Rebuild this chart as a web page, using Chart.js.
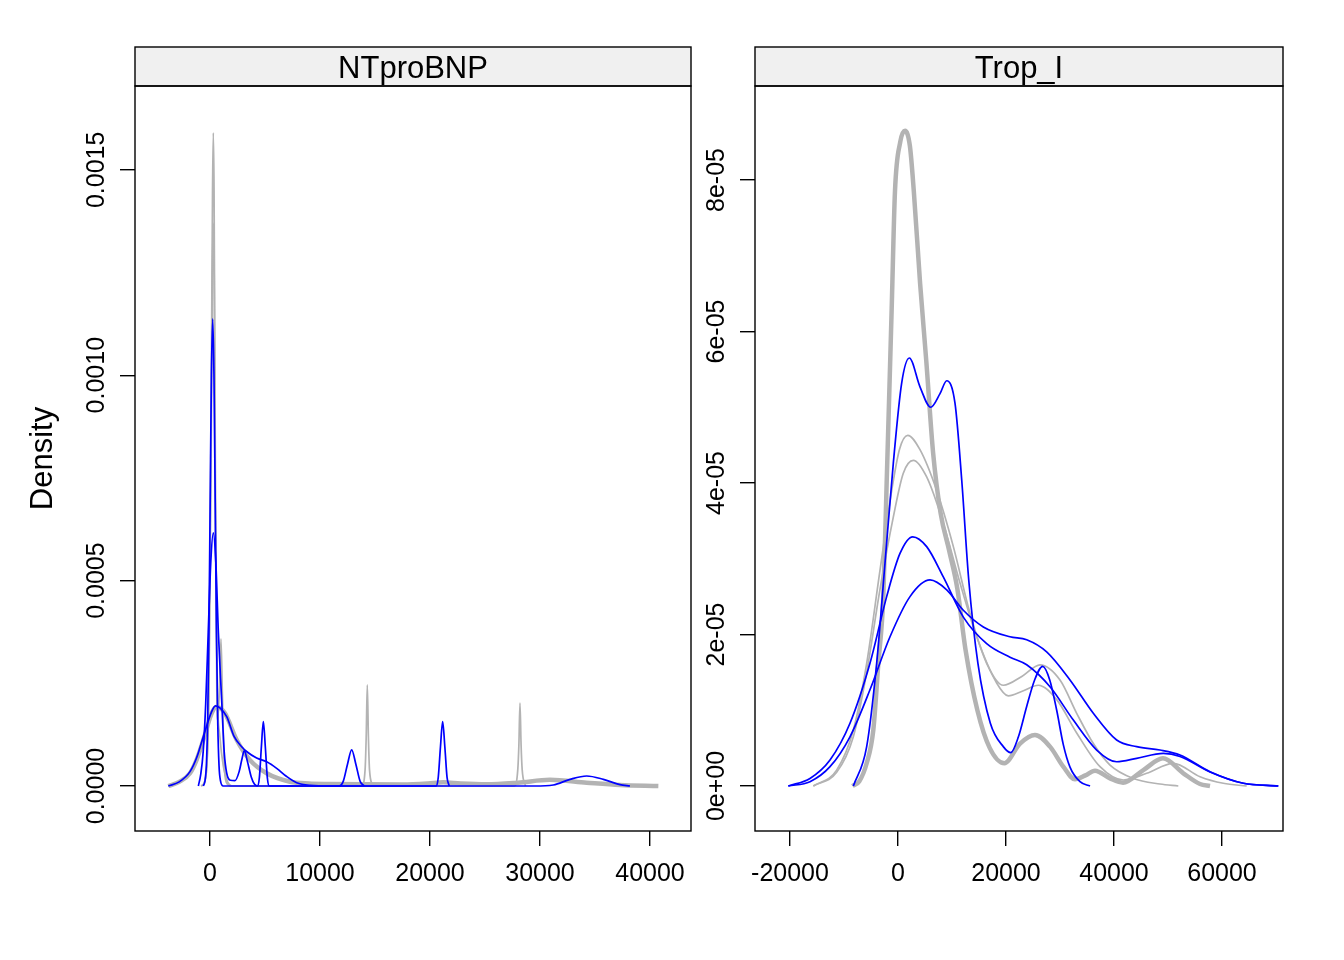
<!DOCTYPE html>
<html>
<head>
<meta charset="utf-8">
<script src="https://cdn.jsdelivr.net/npm/chart.js@4.4.1/dist/chart.umd.min.js"></script>
<style>
  html, body { margin: 0; padding: 0; background: #fff; }
  #wrap { position: relative; width: 1344px; height: 960px; overflow: hidden; }
  canvas { position: absolute; top: 0; }
  #left { left: 0; }
  #right { left: 700px; }
</style>
</head>
<body>
<div id="wrap">
  <canvas id="left" width="700" height="960"></canvas>
  <canvas id="right" width="644" height="960"></canvas>
</div>
<script>
// panel titles and axis ticks
const panels = ['NTproBNP', 'Trop_I'];
const ntXTicks = [0, 10000, 20000, 30000, 40000];
const ntYTicks = [0, 0.0005, 0.001, 0.0015];
const ntYTickLabels = ['0.0000', '0.0005', '0.0010', '0.0015'];
const tropXTicks = [-20000, 0, 20000, 40000, 60000];
const tropYTicks = [0, 2e-5, 4e-5, 6e-5, 8e-5];
const tropYTickLabels = ['0e+00', '2e-05', '4e-05', '6e-05', '8e-05'];

// NTproBNP densities
const ntGrayThickX = [-3790, -2800, -1820, -1200, -610, 150, 610, 1360, 2430, 3640, 5150, 7270, 9000, 10910, 14000, 17500, 19800, 21200, 22800, 25150, 28000, 30900, 34240, 37270, 40760];
const ntGrayThickY = [0, 1.0e-5, 3.1e-5, 6.5e-5, 1.12e-4, 1.77e-4, 1.93e-4, 1.77e-4, 1.12e-4, 6.3e-5, 3.1e-5, 1.05e-5, 6e-6, 4.9e-6, 4e-6, 3.5e-6, 6e-6, 9e-6, 6e-6, 4e-6, 8e-6, 1.5e-5, 8e-6, 2.4e-6, 0];
const ntGray1X = [-800, -400, -100, 100, 230, 300, 370, 500, 620, 700, 850, 1000, 1120, 1280, 1500, 1900, 13800, 14100, 14200, 14300, 14400, 14500, 14800];
const ntGray1Y = [0, 2e-5, 2.5e-4, 9e-4, 1.45e-3, 1.59e-3, 1.45e-3, 7e-4, 2.3e-4, 1.6e-4, 2.3e-4, 3.58e-4, 2.3e-4, 6e-5, 8e-6, 0, 0, 4e-5, 1.2e-4, 2.46e-4, 1.2e-4, 4e-5, 0];
const ntGray2X = [-800, -400, -100, 100, 220, 300, 380, 500, 650, 900, 1200, 1600, 2100, 27680, 27980, 28080, 28180, 28280, 28380, 28680];
const ntGray2Y = [0, 2e-5, 2.2e-4, 8e-4, 1.25e-3, 1.37e-3, 1.25e-3, 6e-4, 2.4e-4, 1.2e-4, 5e-5, 1e-5, 0, 0, 4e-5, 1.0e-4, 2.02e-4, 1.0e-4, 4e-5, 0];
const ntBlueAX = [-610, -450, -330, -215, -100, 15, 130, 245, 360, 475, 590, 705, 820, 950, 1200, 4310, 4490, 4670, 4850, 5030, 5210, 5390, 20550, 20750, 20950, 21150, 21350, 21550, 21750];
const ntBlueAY = [0, 1.3e-5, 5e-5, 1.54e-4, 3.7e-4, 6.9e-4, 1.003e-3, 1.137e-3, 1.003e-3, 6.9e-4, 3.7e-4, 1.54e-4, 5e-5, 1.3e-5, 0, 0, 2.1e-5, 9.5e-5, 1.57e-4, 9.5e-5, 2.1e-5, 0, 0, 2.1e-5, 9.5e-5, 1.57e-4, 9.5e-5, 2.1e-5, 0];
const ntBlueBX = [-1060, -850, -620, -390, -160, 70, 300, 530, 760, 1060, 1300, 1520, 1850, 2270, 2650, 2900, 3120, 3400, 3750, 4050, 4350, 11740, 12120, 12500, 12880, 13260, 13640, 14020];
const ntBlueBY = [0, 2.7e-5, 8.3e-5, 2.0e-4, 3.74e-4, 5.44e-4, 6.16e-4, 5.44e-4, 3.74e-4, 2.1e-4, 8e-5, 3.1e-5, 1.4e-5, 1.3e-5, 3.5e-5, 6.5e-5, 8.6e-5, 6e-5, 2.2e-5, 4e-6, 0, 0, 1.2e-5, 5.3e-5, 8.8e-5, 5.3e-5, 1.2e-5, 0];
const ntBlueCX = [-3790, -2800, -1820, -1200, -610, 150, 500, 900, 1520, 2200, 2900, 3330, 4240, 5150, 6060, 6970, 7880, 9090, 11000, 29500, 31210, 32730, 34240, 35760, 37270, 38180];
const ntBlueCY = [0, 1e-5, 3.5e-5, 7e-5, 1.2e-4, 1.81e-4, 1.95e-4, 1.9e-4, 1.69e-4, 1.2e-4, 9.5e-5, 8.4e-5, 6.8e-5, 5.9e-5, 4.3e-5, 2.3e-5, 8e-6, 1.7e-6, 0, 0, 2.4e-6, 1.63e-5, 2.44e-5, 1.63e-5, 3.2e-6, 0];

// Trop_I densities
const tropGrayThickX = [-8440, -7190, -5800, -4570, -3640, -2720, -2100, -1610, -1170, -560, 410, 1300, 2200, 2930, 4100, 5250, 6500, 7900, 9500, 11000, 12500, 14700, 17000, 19700, 22600, 25370, 28150, 30610, 32780, 34700, 36480, 39260, 41670, 45430, 49070, 52840, 55930, 57780];
const tropGrayThickY = [0, 0.6e-6, 3.0e-6, 7.4e-6, 1.62e-5, 2.5e-5, 4.0e-5, 5.2e-5, 6.3e-5, 7.85e-5, 8.5e-5, 8.65e-5, 8.45e-5, 7.85e-5, 6.63e-5, 5.6e-5, 4.4e-5, 3.6e-5, 3.1e-5, 2.6e-5, 1.8e-5, 1.0e-5, 5.0e-6, 3.0e-6, 5.6e-6, 6.73e-6, 5.2e-6, 2.55e-6, 0.88e-6, 1.4e-6, 2.02e-6, 1.0e-6, 0.44e-6, 2.1e-6, 3.65e-6, 1.68e-6, 0.26e-6, 0];
const tropGray1X = [-15680, -11360, -8270, -5800, -3330, -1170, 300, 1800, 4070, 7170, 10250, 13330, 16420, 19510, 23000, 26300, 30000, 33090, 36170, 39260, 43580, 48520, 51910];
const tropGray1Y = [0, 2.1e-6, 7.4e-6, 1.62e-5, 2.85e-5, 3.9e-5, 4.45e-5, 4.63e-5, 4.44e-5, 3.9e-5, 3.16e-5, 2.28e-5, 1.62e-5, 1.33e-5, 1.45e-5, 1.6e-5, 1.4e-5, 9.6e-6, 5.6e-6, 2.77e-6, 1.0e-6, 2.6e-7, 0];
const tropGray2X = [-15680, -11360, -8270, -5800, -3330, -870, 980, 2840, 5310, 8390, 11480, 14570, 18270, 20430, 23000, 25990, 29390, 33090, 37410, 41730, 46050, 50980, 55930, 60240, 64570];
const tropGray2Y = [0, 1.8e-6, 6.5e-6, 1.5e-5, 2.6e-5, 3.55e-5, 4.13e-5, 4.3e-5, 4.08e-5, 3.47e-5, 2.68e-5, 1.97e-5, 1.36e-5, 1.19e-5, 1.25e-5, 1.33e-5, 1.14e-5, 7.0e-6, 2.55e-6, 7.9e-7, 1.68e-6, 3.0e-6, 1.23e-6, 3.6e-7, 0];
const tropBlueAX = [-8270, -5800, -3950, -2410, -870, 680, 2100, 4070, 6050, 7780, 9020, 10560, 11800, 13100, 14800, 17100, 19500, 20870, 22300, 23830, 25300, 26800, 28100, 29390, 30600, 31850, 33700, 35560];
const tropBlueAY = [0, 5.2e-6, 1.62e-5, 2.94e-5, 4.26e-5, 5.32e-5, 5.65e-5, 5.27e-5, 5.0e-5, 5.18e-5, 5.35e-5, 5.05e-5, 4.04e-5, 2.72e-5, 1.62e-5, 8.3e-6, 5.2e-6, 4.4e-6, 6.5e-6, 1.05e-5, 1.4e-5, 1.58e-5, 1.4e-5, 1.0e-5, 5.5e-6, 2.5e-6, 5.7e-7, 0];
const tropBlueBX = [-20310, -16300, -12590, -8890, -5190, -2100, 370, 2720, 5310, 8390, 12100, 16420, 20740, 23830, 28150, 32470, 36790, 40490, 44200, 49130, 52220, 57780, 63950, 70430];
const tropBlueBY = [0, 1.0e-6, 3.43e-6, 8.28e-6, 1.62e-5, 2.5e-5, 3.07e-5, 3.29e-5, 3.16e-5, 2.76e-5, 2.23e-5, 1.88e-5, 1.7e-5, 1.6e-5, 1.31e-5, 8.7e-6, 4.75e-6, 3.2e-6, 3.65e-6, 4.31e-6, 3.9e-6, 1.85e-6, 3.6e-7, 0];
const tropBlueCX = [-20310, -16300, -12590, -8890, -5190, -1480, 2220, 5930, 9020, 12100, 15800, 20740, 23830, 27530, 31850, 36170, 40490, 44200, 48520, 52220, 57780, 63950, 70430];
const tropBlueCY = [0, 5.7e-7, 2.55e-6, 6.5e-6, 1.27e-5, 1.97e-5, 2.5e-5, 2.72e-5, 2.59e-5, 2.32e-5, 2.1e-5, 1.97e-5, 1.93e-5, 1.77e-5, 1.4e-5, 9.6e-6, 6.07e-6, 5.19e-6, 4.75e-6, 4.09e-6, 1.89e-6, 3.6e-7, 0];

const FONT = '"Liberation Sans", Arial, Helvetica, sans-serif';
const BLUE = '#0000ff';
const GRAY = '#b3b3b3';
Chart.defaults.font.family = FONT;
Chart.defaults.color = '#000';

const pts = (xs, ys) => xs.map((x, i) => ({ x: x, y: ys[i] }));

function curve(xs, ys, color, width) {
  return {
    data: pts(xs, ys),
    borderColor: color,
    borderWidth: width,
    pointRadius: 0,
    fill: false,
    cubicInterpolationMode: 'monotone'
  };
}

// strip, panel box and rotated y labels, lattice style
function panelFrame(label, yLabelX, yLabels) {
  return {
    id: 'panelFrame',
    afterDraw(chart) {
      const ctx = chart.ctx;
      const a = chart.chartArea;
      const stripTop = 47;
      ctx.save();
      ctx.fillStyle = '#f0f0f0';
      ctx.fillRect(a.left, stripTop, a.right - a.left, a.top - stripTop);
      ctx.strokeStyle = '#000';
      ctx.lineWidth = 1.4;
      ctx.strokeRect(a.left, stripTop, a.right - a.left, a.top - stripTop);
      ctx.strokeRect(a.left, a.top, a.right - a.left, a.bottom - a.top);
      ctx.fillStyle = '#000';
      ctx.textAlign = 'center';
      ctx.textBaseline = 'middle';
      ctx.font = '31px ' + FONT;
      ctx.fillText(label, (a.left + a.right) / 2, (stripTop + a.top) / 2 + 3);
      const ys = chart.scales.y;
      ctx.font = '25px ' + FONT;
      ys.ticks.forEach((t, i) => {
        ctx.save();
        ctx.translate(yLabelX, ys.getPixelForValue(t.value));
        ctx.rotate(-Math.PI / 2);
        ctx.fillText(yLabels[i], 0, 0);
        ctx.restore();
      });
      ctx.restore();
    }
  };
}

const tickGrid = { drawOnChartArea: false, drawTicks: true, tickLength: 15, color: '#000', lineWidth: 1.4 };

function makeChart(id, datasets, o) {
  return new Chart(document.getElementById(id), {
    type: 'line',
    data: { datasets: datasets },
    options: {
      responsive: false,
      animation: false,
      events: [],
      layout: { padding: { top: 86, right: o.padRight, bottom: 0, left: 0 } },
      plugins: { legend: { display: false }, tooltip: { enabled: false } },
      scales: {
        x: {
          type: 'linear',
          min: o.xMin,
          max: o.xMax,
          afterBuildTicks: s => { s.ticks = o.xTicks.map(v => ({ value: v })); },
          afterFit: s => { s.height = 129; },
          grid: tickGrid,
          border: { display: false },
          ticks: {
            autoSkip: false, maxRotation: 0, minRotation: 0, padding: 13,
            color: '#000', font: { size: 25 },
            callback: v => String(v)
          }
        },
        y: {
          type: 'linear',
          min: o.yMin,
          max: o.yMax,
          afterBuildTicks: s => { s.ticks = o.yTicks.map(v => ({ value: v })); },
          afterFit: s => { s.width = o.yWidth; },
          grid: tickGrid,
          border: { display: false },
          ticks: { display: false },
          title: {
            display: o.yTitle !== '',
            text: o.yTitle,
            color: '#000',
            font: { size: 31 },
            padding: { top: 25, bottom: 0 }
          }
        }
      }
    },
    plugins: [panelFrame(o.label, o.yLabelX, o.yLabels)]
  });
}

makeChart('left', [
  curve(ntBlueAX, ntBlueAY, BLUE, 1.7),
  curve(ntBlueBX, ntBlueBY, BLUE, 1.7),
  curve(ntBlueCX, ntBlueCY, BLUE, 1.7),
  curve(ntGray1X, ntGray1Y, GRAY, 1.7),
  curve(ntGray2X, ntGray2Y, GRAY, 1.7),
  curve(ntGrayThickX, ntGrayThickY, GRAY, 4.5)
], {
  label: panels[0], padRight: 9, yWidth: 135, yTitle: 'Density', yLabelX: 97,
  xMin: -6818, xMax: 43727, xTicks: ntXTicks,
  yMin: -0.00010954, yMax: 0.0017040, yTicks: ntYTicks, yLabels: ntYTickLabels
});

makeChart('right', [
  curve(tropBlueAX, tropBlueAY, BLUE, 1.7),
  curve(tropBlueBX, tropBlueBY, BLUE, 1.7),
  curve(tropBlueCX, tropBlueCY, BLUE, 1.7),
  curve(tropGray1X, tropGray1Y, GRAY, 1.7),
  curve(tropGray2X, tropGray2Y, GRAY, 1.7),
  curve(tropGrayThickX, tropGrayThickY, GRAY, 4.5)
], {
  label: panels[1], padRight: 61, yWidth: 55, yTitle: '', yLabelX: 17,
  xMin: -26481, xMax: 71296, xTicks: tropXTicks,
  yMin: -5.94e-6, yMax: 9.241e-5, yTicks: tropYTicks, yLabels: tropYTickLabels
});
</script>
</body>
</html>
